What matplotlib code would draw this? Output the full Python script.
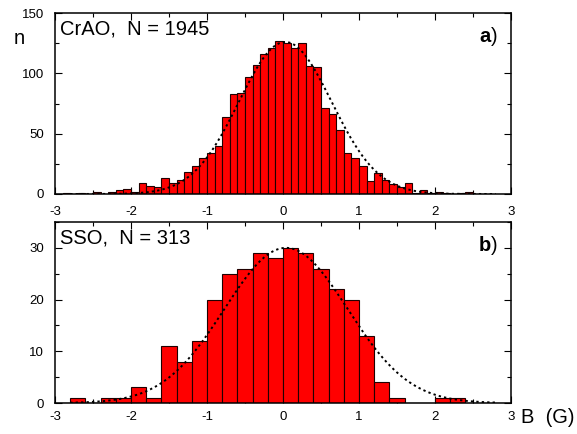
import numpy as np
import matplotlib
matplotlib.use("Agg")
import matplotlib.pyplot as plt
from matplotlib.ticker import MultipleLocator

plt.rcParams['font.family'] = ['Liberation Sans', 'DejaVu Sans']
plt.rcParams['axes.unicode_minus'] = False

# panel a) CrAO, bins of 0.1 G starting at -3.0
crao_left = np.round(np.arange(-3.0, 3.0, 0.1), 2)
crao_counts = [0, 1, 0, 1, 0, 2, 0, 2, 3, 4,
               2, 9, 7, 6, 13, 9, 12, 18, 23, 30,
               34, 40, 64, 83, 84, 97, 107, 116, 121, 127,
               125, 121, 125, 106, 105, 71, 66, 53, 34, 30,
               23, 11, 17, 12, 8, 6, 9, 1, 3, 1,
               2, 1, 0, 1, 2, 0, 0, 0, 0, 0]
crao_fit = (126.0, 0.03, 0.61)   # amplitude, mean, sigma of the gaussian fit

# panel b) SSO, bins of 0.2 G starting at -3.0
sso_left = np.round(np.arange(-3.0, 3.0, 0.2), 2)
sso_counts = [0, 1, 0, 1, 1, 3, 1, 11, 8, 12,
              20, 25, 26, 29, 28, 30, 29, 26, 22, 20,
              13, 4, 1, 0, 0, 1, 1, 0, 0, 0]
sso_fit = (30.0, 0.04, 0.81)

fig = plt.figure(figsize=(5.77, 4.34), dpi=100)
ax1 = fig.add_axes([0.0953, 0.553, 0.7903, 0.417])
ax2 = fig.add_axes([0.0953, 0.0714, 0.7903, 0.4171])


def draw_panel(ax, left, counts, width, fit, ymax, ymaj, label, tag, xpad):
    ax.bar(left, counts, width=width, align='edge', color='#ff0000',
           edgecolor='#200000', linewidth=0.8, zorder=2)
    amp, mu, sig = fit
    xs = np.linspace(-2.8, 2.8, 400)
    ax.plot(xs, amp * np.exp(-(xs - mu) ** 2 / (2 * sig ** 2)), color='black',
            linestyle=(0, (1.2, 1.6)), linewidth=1.4, zorder=3)
    ax.set_xlim(-3, 3)
    ax.set_ylim(0, ymax)
    ax.xaxis.set_major_locator(MultipleLocator(1))
    ax.xaxis.set_minor_locator(MultipleLocator(0.5))
    ax.yaxis.set_major_locator(MultipleLocator(ymaj))
    ax.yaxis.set_minor_locator(MultipleLocator(ymaj / 2))
    ax.tick_params(which='both', direction='in', top=True, right=True,
                   width=0.8, labelsize=9.5)
    ax.tick_params(which='major', length=5)
    ax.tick_params(which='minor', length=3)
    ax.tick_params(axis='y', pad=8)
    ax.tick_params(axis='x', pad=xpad)
    for s in ax.spines.values():
        s.set_linewidth(1.1)
    ax.text(0.012, 0.965, label, transform=ax.transAxes, fontsize=14.5,
            va='top', ha='left')
    ax.text(0.955, 0.925, tag, transform=ax.transAxes, fontsize=14.5,
            fontweight='bold', va='top', ha='right')
    ax.text(0.957, 0.925, ')', transform=ax.transAxes, fontsize=14.5,
            va='top', ha='left')


draw_panel(ax1, crao_left, crao_counts, 0.1, crao_fit, 150, 50,
           'CrAO,  N = 1945', 'a', 9)
draw_panel(ax2, sso_left, sso_counts, 0.2, sso_fit, 35, 10,
           'SSO,  N = 313', 'b', 6)

fig.text(0.023, 0.912, 'n', fontsize=14.5, va='center', ha='left')
fig.text(0.903, 0.037, 'B  (G)', fontsize=14.5, va='center', ha='left')

fig.savefig('out.png', dpi=100)
